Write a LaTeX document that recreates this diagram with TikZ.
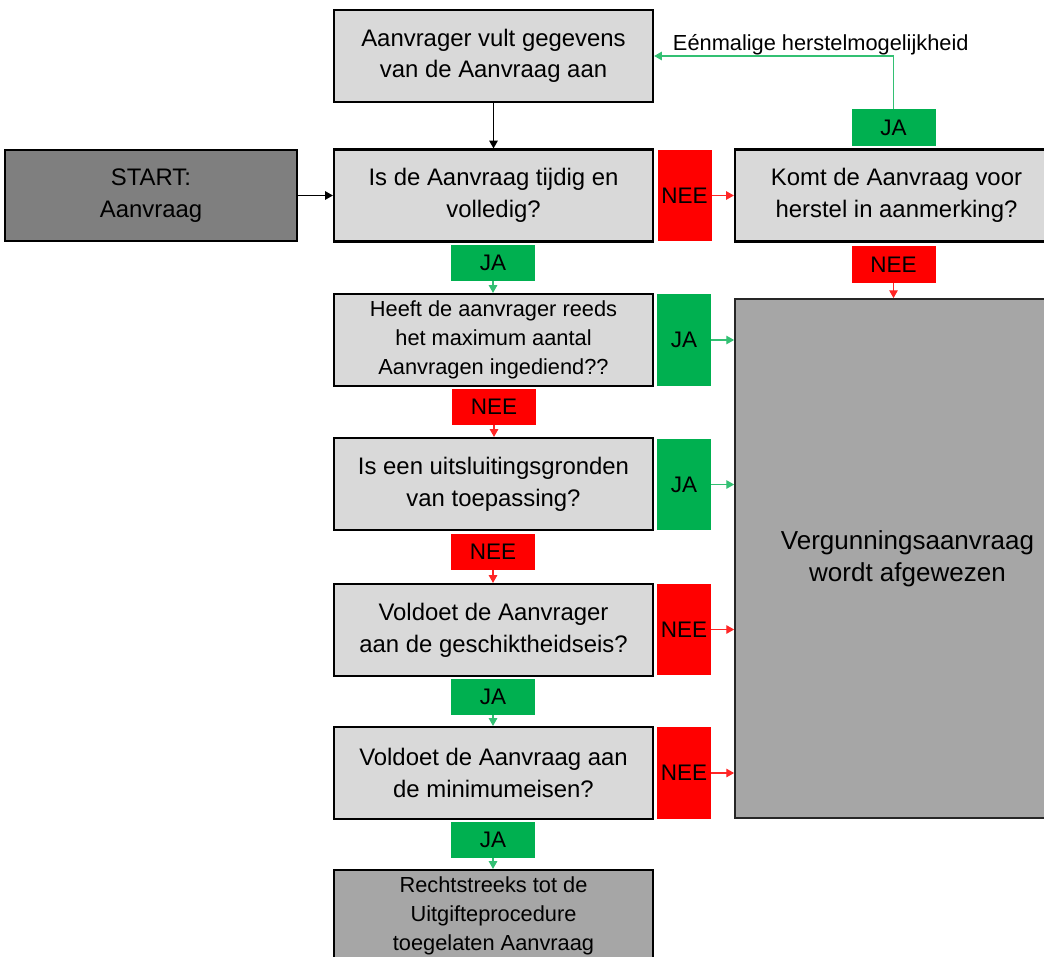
\documentclass[tikz,border=0pt]{standalone}
\usepackage{fontspec}
\setmainfont{Liberation Sans}
\definecolor{boxgray}{RGB}{217,217,217}
\definecolor{startgray}{RGB}{127,127,127}
\definecolor{endgray}{RGB}{166,166,166}
\definecolor{jagreen}{RGB}{0,176,80}
\definecolor{neered}{RGB}{255,0,0}
\usetikzlibrary{arrows.meta}

\begin{document}
\begin{tikzpicture}[
    x=0.025cm, y=-0.025cm,
    vraag/.style={rectangle, draw=black, line width=1.5pt, fill=boxgray, align=center,
                  font=\fontsize{17}{22.5}\selectfont, minimum width=7.975cm, minimum height=2.3cm, inner sep=2pt},
    klein/.style={vraag, font=\fontsize{15.5}{20.5}\selectfont},
    sidelabel/.style={rectangle, fill=#1, font=\fontsize{16}{19}\selectfont,
                      minimum width=1.35cm, minimum height=2.275cm, inner sep=0pt},
    downlabel/.style={rectangle, fill=#1, font=\fontsize{16}{19}\selectfont,
                      minimum width=2.1cm, minimum height=0.9cm, inner sep=0pt},
    pijl/.style={-{Triangle[width=6pt,length=5.5pt]}, line width=0.85pt},
    japijl/.style={pijl, draw=jagreen!80!white},
    neepijl/.style={pijl, draw=neered!85!white}
  ]
    \useasboundingbox (0,0) rectangle (1044,957);

    % Main column
    \node[vraag] (invullen) at (493.5,56) {Aanvrager vult gegevens\\van de Aanvraag aan};
    \node[vraag, fill=startgray, minimum width=7.3cm, minimum height=2.275cm] (start) at (151,195.5) {START:\\Aanvraag};
    \node[vraag] (tijdig) at (493.5,195.5) {Is de Aanvraag tijdig en\\volledig?};
    \node[klein] (maximum) at (493.5,340) {Heeft de aanvrager reeds\\het maximum aantal\\Aanvragen ingediend??};
    \node[vraag] (uitsluiting) at (493.5,484) {Is een uitsluitingsgronden\\van toepassing?};
    \node[vraag] (geschikt) at (493.5,630) {Voldoet de Aanvrager\\aan de geschiktheidseis?};
    \node[vraag] (minimum) at (493.5,773) {Voldoet de Aanvraag aan\\de minimumeisen?};
    \node[klein, fill=endgray] (toegelaten) at (493.5,916) {Rechtstreeks tot de\\Uitgifteprocedure\\toegelaten Aanvraag};

    % Right column
    \node[vraag, minimum width=8.075cm] (herstel) at (896.5,195.5) {Komt de Aanvraag voor\\herstel in aanmerking?};
    \node[vraag, fill=endgray, line width=1.2pt, draw=black!85, font=\fontsize{18.5}{23}\selectfont,
          minimum width=8.625cm, minimum height=12.975cm] (afgewezen) at (907.5,558.5)
      {Vergunningsaanvraag\\wordt afgewezen};

    % JA / NEE labels
    \node[downlabel=jagreen] (jaHerstel) at (893.5,127.5) {JA};
    \node[downlabel=neered] (neeHerstel) at (893.5,264.5) {NEE};
    \node[sidelabel=neered] (neeTijdig) at (684.5,195.5) {NEE};
    \node[downlabel=jagreen] (jaTijdig) at (493,263) {JA};
    \node[sidelabel=jagreen] (jaMaximum) at (684,340) {JA};
    \node[downlabel=neered] (neeMaximum) at (494,407) {NEE};
    \node[sidelabel=jagreen] (jaUitsluiting) at (684,484.5) {JA};
    \node[downlabel=neered] (neeUitsluiting) at (493,552) {NEE};
    \node[sidelabel=neered] (neeGeschikt) at (684,629.5) {NEE};
    \node[downlabel=jagreen] (jaGeschikt) at (493,697) {JA};
    \node[sidelabel=neered] (neeMinimum) at (684,773) {NEE};
    \node[downlabel=jagreen] (jaMinimum) at (493,840) {JA};

    % Black arrows
    \draw[pijl] (invullen) -- (tijdig);
    \draw[pijl] (start) -- (tijdig);

    % Herstel loop
    \draw[japijl] (jaHerstel.north) |- (invullen.east);
    \node[anchor=base west, font=\fontsize{15.5}{18}\selectfont] (eenmalig) at (668,51) {Eénmalige herstelmogelijkheid};
    \draw[neepijl] (neeTijdig) -- (neeTijdig -| herstel.west);
    \draw[neepijl] (neeHerstel) -- (neeHerstel |- afgewezen.north);

    % Down the column
    \draw[japijl] (jaTijdig) -- (jaTijdig |- maximum.north);
    \draw[neepijl] (neeMaximum) -- (neeMaximum |- uitsluiting.north);
    \draw[neepijl] (neeUitsluiting) -- (neeUitsluiting |- geschikt.north);
    \draw[japijl] (jaGeschikt) -- (jaGeschikt |- minimum.north);
    \draw[japijl] (jaMinimum) -- (jaMinimum |- toegelaten.north);

    % Into afgewezen
    \foreach \lab/\stijl in {jaMaximum/japijl, jaUitsluiting/japijl, neeGeschikt/neepijl, neeMinimum/neepijl}
      \draw[\stijl] (\lab.east) -- (\lab.east -| afgewezen.west);
  \end{tikzpicture}
\end{document}
